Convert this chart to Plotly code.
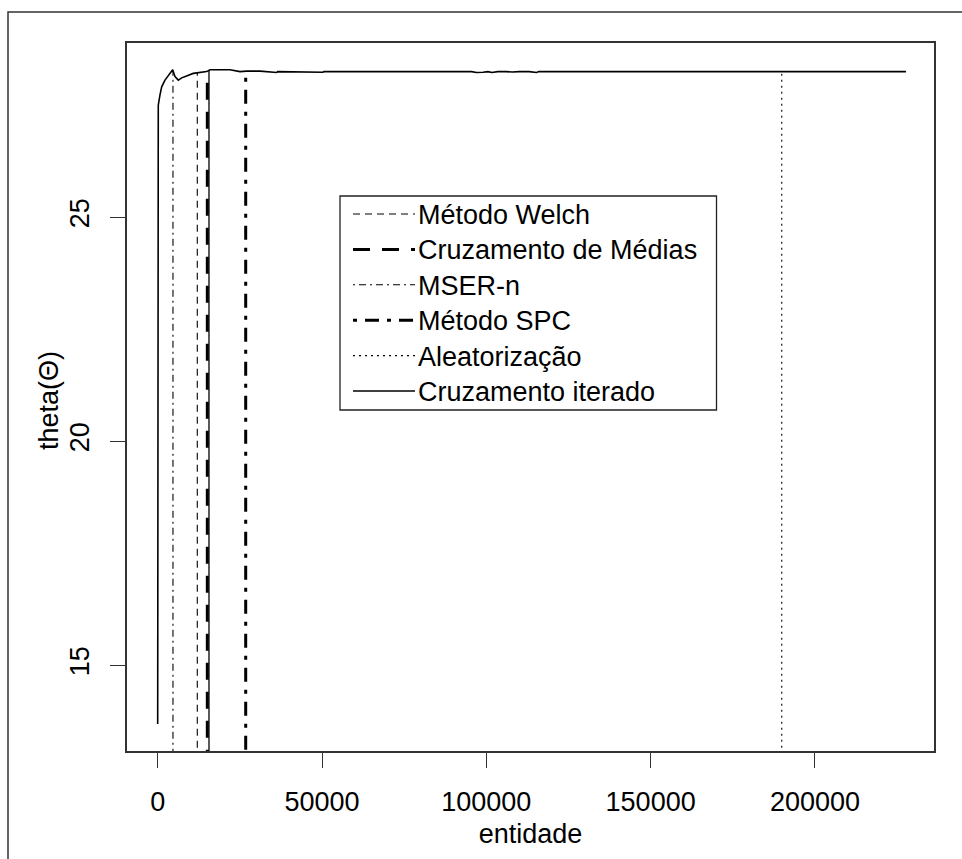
import numpy as np
import plotly.graph_objects as go

# ---- data ----
entidade = [0, 30, 180, 700, 1220, 2220, 3230, 4260, 4560, 5260, 6270, 7300, 8830,
            10830, 14910, 15920, 22000, 25040, 27080, 31140, 36200, 36500, 50300,
            50600, 95500, 97000, 99000, 100500, 101700, 103500, 106000, 108000,
            110000, 113000, 115300, 116000, 227700]
theta = [13.69, 27.28, 27.50, 27.73, 27.91, 28.06, 28.16, 28.25, 28.29, 28.14,
         28.06, 28.11, 28.16, 28.21, 28.25, 28.29, 28.29, 28.25, 28.26, 28.26,
         28.23, 28.25, 28.235, 28.25, 28.25, 28.23, 28.235, 28.25, 28.23, 28.25,
         28.25, 28.24, 28.25, 28.25, 28.23, 28.25, 28.25]

metodos = ["Método Welch", "Cruzamento de Médias", "MSER-n",
           "Método SPC", "Aleatorização", "Cruzamento iterado"]
truncagem = [12050, 15100, 4650, 26780, 189900, 15610]

x_ticks = [0, 50000, 100000, 150000, 200000]
y_ticks = [15, 20, 25]
x_range = [-9430, 236320]
y_range = [13.085, 28.895]

# line styles (dash, width) for each method
estilos = [
    ("7px,5px", 1.1),
    ("17px,12px", 3.0),
    ("2px,4px,7px,4px", 1.1),
    ("4px,8px,14px,8px", 3.0),
    ("2px,4px", 1.1),
    ("solid", 1.3),
]

W, H = 962, 859
FONT = "Arial, Liberation Sans, sans-serif"
FS = 27


def px(x):
    return x / W


def py(y):
    return 1 - y / H


fig = go.Figure()

# main curve
fig.add_trace(go.Scatter(x=entidade, y=theta, mode="lines",
                         line=dict(color="black", width=1.6),
                         showlegend=False, hoverinfo="skip"))

# truncation lines, drawn from the bottom up to the curve
for nome, xv, (dash, w) in zip(metodos, truncagem, estilos):
    top = float(np.interp(xv, entidade, theta))
    fig.add_trace(go.Scatter(x=[xv, xv], y=[y_range[0] - 1, top], mode="lines",
                             line=dict(color="black", width=w, dash=dash),
                             name=nome, showlegend=False, hoverinfo="skip"))

shapes = []
annotations = []

# outer figure border (left and top edges visible)
shapes.append(dict(type="rect", xref="paper", yref="paper",
                   x0=px(8), x1=1.05, y0=-0.05, y1=py(12),
                   line=dict(color="#333", width=1.5), fillcolor="rgba(0,0,0,0)"))

# legend box
shapes.append(dict(type="rect", xref="paper", yref="paper",
                   x0=px(340), x1=px(716.5), y0=py(410), y1=py(196),
                   line=dict(color="#222", width=1.3), fillcolor="white"))
for i, (nome, (dash, w)) in enumerate(zip(metodos, estilos)):
    yc = 214 + 35.4 * i
    shapes.append(dict(type="line", xref="paper", yref="paper",
                       x0=px(353), x1=px(415), y0=py(yc), y1=py(yc),
                       line=dict(color="black", width=w, dash=dash)))
    annotations.append(dict(xref="paper", yref="paper", x=px(416), y=py(yc + 1),
                            xanchor="left", yanchor="middle", text=nome,
                            showarrow=False, font=dict(family=FONT, size=FS, color="black")))

# y axis title
annotations.append(dict(xref="paper", yref="paper", x=px(49), y=py(401),
                        xanchor="center", yanchor="middle", textangle=-90,
                        text="theta(Θ)", showarrow=False,
                        font=dict(family=FONT, size=FS, color="black")))

fig.update_layout(
    width=W, height=H,
    margin=dict(l=0, r=0, t=0, b=0),
    paper_bgcolor="white", plot_bgcolor="white",
    font=dict(family=FONT, size=FS, color="black"),
    shapes=shapes, annotations=annotations,
    xaxis=dict(domain=[px(126.7), px(934.3)], range=x_range,
               tickvals=x_ticks, ticktext=[str(v) for v in x_ticks],
               ticks="outside", ticklen=15, tickwidth=1.3, tickcolor="#333",
               showline=True, mirror=True, linecolor="#333", linewidth=1.5,
               showgrid=False, zeroline=False, ticklabelstandoff=11,
               tickfont=dict(family=FONT, size=FS, color="black"),
               title=dict(text="entidade", standoff=8,
                          font=dict(family=FONT, size=FS, color="black"))),
    yaxis=dict(domain=[py(751), py(42.7)], range=y_range,
               tickvals=y_ticks, ticktext=[str(v) for v in y_ticks], tickangle=-90,
               ticks="outside", ticklen=15, tickwidth=1.3, tickcolor="#333",
               showline=True, mirror=True, linecolor="#333", linewidth=1.5,
               showgrid=False, zeroline=False, ticklabelstandoff=10,
               tickfont=dict(family=FONT, size=FS, color="black")),
)

fig.write_html("out.html", config={"displayModeBar": False},
               post_script="document.body.style.margin='0';document.body.style.overflow='hidden';")
